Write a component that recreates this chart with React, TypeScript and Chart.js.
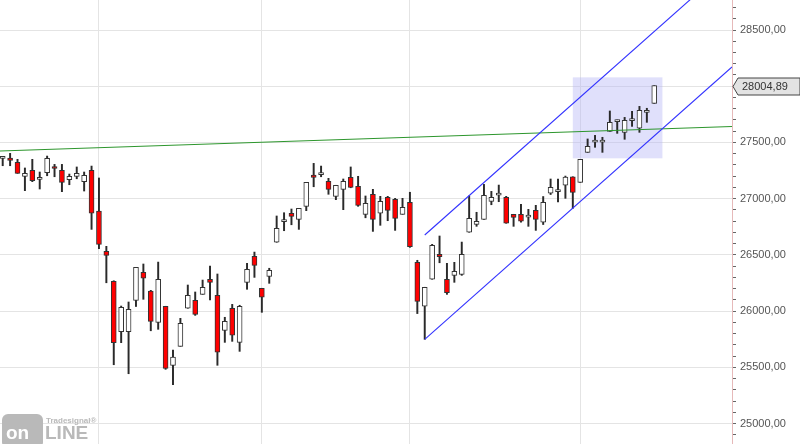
import React, { useEffect, useRef } from 'react';
import { Chart, registerables } from 'chart.js';

Chart.register(...registerables);

// ---- data ----
const opens = [
  27366, 27362, 27323, 27199, 27252, 27181, 27231, 27280, 27252, 27169,
  27199, 27151, 27252, 26890, 26532, 26265, 25816, 25816, 26096, 26345,
  26179, 25900, 26043, 25518, 25687, 26025, 26096, 26149, 26283, 26141,
  25829, 26025, 25722, 26256, 26487, 26203, 26309, 26612, 26804, 26870,
  26816, 26932, 27210, 27222, 27154, 27021, 27083, 27190, 27110, 26861,
  27039, 26870, 27012, 26994, 26861, 26967, 26434, 26043, 26283, 26505,
  26283, 26318, 26327, 26701, 26772, 26816, 26976, 27039, 27012, 26861,
  26861, 26843, 26896, 26790, 27048, 27071, 27119, 27195, 27145, 27412,
  27510, 27510, 27599, 27693, 27590, 27702, 27626, 27768, 27848,
];
const closes = [
  27368, 27341, 27225, 27225, 27160, 27181, 27359, 27275, 27145, 27199,
  27225, 27208, 26870, 26594, 26496, 25719, 26034, 26016, 26389, 26292,
  25909, 26283, 25491, 25592, 25891, 26141, 25971, 26212, 26256, 25634,
  25909, 25785, 26043, 26372, 26407, 26123, 26363, 26736, 26806, 26843,
  26914, 27145, 27190, 27224, 27083, 27119, 27154, 27101, 26941, 26959,
  26816, 26976, 26896, 26825, 26923, 26572, 26087, 26212, 26585, 26484,
  26163, 26354, 26505, 26825, 26798, 27030, 27012, 27041, 26781, 26834,
  26799, 26845, 26816, 26967, 27101, 27073, 27192, 27056, 27350, 27466,
  27512, 27512, 27679, 27695, 27697, 27704, 27786, 27786, 28004.89,
];
const highs = [
  27372, 27403, 27350, 27273, 27350, 27237, 27379, 27305, 27305, 27219,
  27282, 27237, 27290, 27184, 26576, 26270, 26045, 26081, 26389, 26419,
  26185, 26436, 26043, 25654, 25936, 26232, 26170, 26276, 26401, 26330,
  25945, 26060, 26052, 26425, 26525, 26203, 26381, 26846, 26875, 26908,
  26914, 27145, 27314, 27290, 27181, 27119, 27175, 27282, 27199, 27024,
  27083, 27021, 27021, 27003, 27003, 27057, 26452, 26212, 26594, 26668,
  26425, 26434, 26614, 27024, 26879, 27127, 27065, 27121, 27021, 26861,
  26950, 26905, 26941, 27019, 27175, 27175, 27201, 27195, 27350, 27531,
  27563, 27546, 27780, 27700, 27723, 27777, 27821, 27804, 28004.89,
];
const lows = [
  27293, 27293, 27225, 27071, 27151, 27086, 27204, 27195, 27062, 27124,
  27177, 27068, 26727, 26555, 26252, 25523, 25719, 25443, 26041, 26105,
  25825, 25838, 25482, 25345, 25687, 26025, 25962, 26149, 26099, 25518,
  25722, 25731, 25642, 26194, 26300, 25989, 26247, 26612, 26715, 26768,
  26727, 26893, 27106, 27195, 27039, 26991, 26902, 27097, 26932, 26830,
  26709, 26763, 26804, 26718, 26861, 26567, 25978, 25749, 26283, 26430,
  26149, 26256, 26318, 26701, 26754, 26816, 26946, 26973, 26781, 26754,
  26790, 26754, 26718, 26770, 27037, 26970, 27003, 26914, 27145, 27412,
  27457, 27412, 27599, 27581, 27528, 27643, 27590, 27679, 27848,
];

// vertical grid lines (bar indices of period starts)
const xGridIndices = [13, 35, 55, 78];
// y axis
const yMajorTicks = [25000, 25500, 26000, 26500, 27000, 27500, 28000, 28500];
const yMinorStep = 100;
const yRange = [24818, 28767];
const xRange = [-0.365, 98.5];

// drawn objects
const greenLineX = [-0.365, 98.5];
const greenLineY = [27424, 27642];
const channelX = [57, 98.5];
const channelUpperY = [26677, 29100];
const channelLowerY = [25749, 28172];
const boxX = [77.0, 89.1];
const boxY = [27359, 28079];

const fmt = (v: number) => v.toFixed(2).replace('.', ',');
const FONT = "'Liberation Sans', Arial, sans-serif";

const yTickValues: number[] = [];
for (let v = Math.ceil(yRange[0] / yMinorStep) * yMinorStep; v <= yRange[1]; v += yMinorStep) yTickValues.push(v);

const boxPlugin = {
  id: 'boxPlugin',
  beforeDatasetsDraw(chart: any) {
    const { ctx, scales } = chart;
    const x = scales.x, y = scales.y;
    const x0 = x.getPixelForValue(boxX[0]);
    const x1 = x.getPixelForValue(boxX[1]);
    const y0 = y.getPixelForValue(boxY[1]);
    const y1 = y.getPixelForValue(boxY[0]);
    ctx.save();
    ctx.fillStyle = 'rgba(180,180,245,0.42)';
    ctx.fillRect(x0, y0, x1 - x0, y1 - y0);
    ctx.restore();
  },
};

const overlayPlugin = {
  id: 'overlayPlugin',
  afterDraw(chart: any) {
    const { ctx, scales, chartArea } = chart;
    const y = scales.y;
    const last = closes[closes.length - 1];
    const py = Math.round(y.getPixelForValue(last)) + 0.5;
    const left = chartArea.right + 1;
    ctx.save();
    // price marker
    ctx.beginPath();
    ctx.moveTo(left, py);
    ctx.lineTo(left + 5, py - 8.5);
    ctx.lineTo(800, py - 8.5);
    ctx.lineTo(800, py + 8.5);
    ctx.lineTo(left + 5, py + 8.5);
    ctx.closePath();
    ctx.fillStyle = '#e3e3e3';
    ctx.fill();
    ctx.strokeStyle = '#444';
    ctx.lineWidth = 1;
    ctx.stroke();
    ctx.fillStyle = '#333';
    ctx.font = `11px ${FONT}`;
    ctx.textBaseline = 'middle';
    ctx.textAlign = 'left';
    ctx.fillText(fmt(last), left + 9, py + 0.5);

    // logo
    ctx.fillStyle = '#b9b9b9';
    ctx.beginPath();
    (ctx as any).roundRect(2, 414, 41, 34, 6);
    ctx.fill();
    ctx.fillStyle = '#ffffff';
    ctx.font = `bold 19px ${FONT}`;
    ctx.textBaseline = 'alphabetic';
    ctx.fillText('on', 6, 439);
    ctx.fillStyle = '#b9b9b9';
    ctx.font = `bold 19px ${FONT}`;
    ctx.fillText('LINE', 45, 439);
    ctx.font = `bold 8px ${FONT}`;
    ctx.fillText('Tradesignal®', 46, 423);
    ctx.restore();
  },
};

export default function App() {
  const ref = useRef<HTMLCanvasElement | null>(null);

  useEffect(() => {
    if (!ref.current) return;
    const idx = opens.map((_, i) => i);
    const wickData = idx.map((i) => ({ x: i, y: [lows[i], highs[i]] }));
    const bodyData = idx.map((i) => {
      const o = opens[i], c = closes[i];
      if (Math.abs(o - c) < 14) {
        const m = (o + c) / 2;
        return { x: i, y: [m - 9, m + 9] };
      }
      return { x: i, y: [o, c] };
    });
    const bodyColors = idx.map((i) => (closes[i] < opens[i] ? '#ff0000' : '#ffffff'));

    const chart = new Chart(ref.current, {
      type: 'bar',
      data: {
        datasets: [
          {
            type: 'line',
            data: greenLineX.map((x, k) => ({ x, y: greenLineY[k] })),
            borderColor: 'rgb(45,150,45)',
            borderWidth: 1.2,
            pointRadius: 0,
            order: 1,
          } as any,
          {
            type: 'line',
            data: channelX.map((x, k) => ({ x, y: channelUpperY[k] })),
            borderColor: 'rgb(50,50,255)',
            borderWidth: 1.1,
            pointRadius: 0,
            order: 0,
          } as any,
          {
            type: 'line',
            data: channelX.map((x, k) => ({ x, y: channelLowerY[k] })),
            borderColor: 'rgb(50,50,255)',
            borderWidth: 1.1,
            pointRadius: 0,
            order: 0,
          } as any,
          {
            type: 'bar',
            data: wickData,
            backgroundColor: '#2a2a2a',
            borderWidth: 0,
            barThickness: 1.3,
            grouped: false,
            order: 4,
          } as any,
          {
            type: 'bar',
            data: bodyData,
            backgroundColor: bodyColors,
            borderColor: '#333333',
            borderWidth: 1,
            borderSkipped: false,
            barThickness: 5,
            grouped: false,
            order: 3,
          } as any,
        ],
      },
      options: {
        animation: false,
        responsive: false,
        maintainAspectRatio: false,
        layout: { padding: 0 },
        plugins: { legend: { display: false }, tooltip: { enabled: false } },
        scales: {
          x: {
            type: 'linear',
            min: xRange[0],
            max: xRange[1],
            offset: false,
            afterBuildTicks: (s: any) => {
              s.ticks = xGridIndices.map((v) => ({ value: v }));
            },
            afterFit: (s: any) => {
              s.height = 0;
              s.paddingLeft = 0;
              s.paddingRight = 0;
            },
            ticks: { display: false },
            grid: { color: '#e4e4e4', drawTicks: false, offset: false },
            border: { display: false },
          },
          y: {
            type: 'linear',
            position: 'right',
            min: yRange[0],
            max: yRange[1],
            afterBuildTicks: (s: any) => {
              s.ticks = yTickValues.map((v) => ({ value: v }));
            },
            afterFit: (s: any) => {
              s.width = 68;
              s.paddingTop = 0;
              s.paddingBottom = 0;
            },
            ticks: {
              autoSkip: false,
              padding: 4,
              color: '#555555',
              font: { family: FONT, size: 11 },
              callback: (v: any) => (yMajorTicks.includes(Number(v)) ? fmt(Number(v)) : ''),
            },
            grid: {
              color: (c: any) => (c.tick && yMajorTicks.includes(c.tick.value) ? '#e4e4e4' : 'rgba(0,0,0,0)'),
              tickColor: '#666666',
              tickLength: 4,
              drawOnChartArea: true,
            },
            border: { color: '#e6b9b9', width: 1 },
          },
        },
      },
      plugins: [boxPlugin, overlayPlugin],
    } as any);
    return () => chart.destroy();
  }, []);

  return (
    <div style={{ position: 'fixed', left: 0, top: 0, width: 800, height: 444, background: '#ffffff' }}>
      <canvas ref={ref} width={800} height={444} style={{ width: 800, height: 444, display: 'block' }} />
    </div>
  );
}
